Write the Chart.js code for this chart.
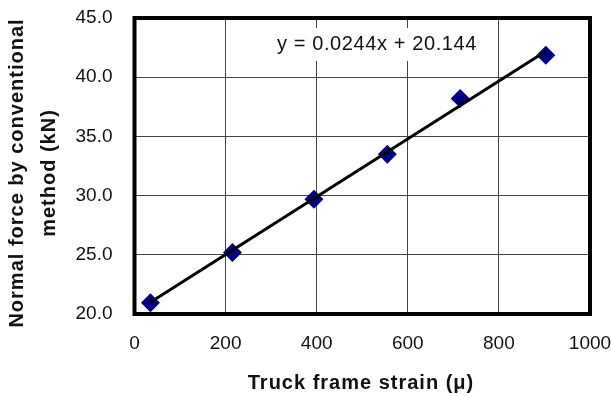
<!DOCTYPE html>
<html>
<head>
<meta charset="utf-8">
<script src="https://cdn.jsdelivr.net/npm/chart.js@4.4.1/dist/chart.umd.min.js"></script>
<style>
  html, body { margin: 0; padding: 0; background: #fff; }
  #wrap { width: 611px; height: 396px; }
</style>
</head>
<body>
<div id="wrap"><canvas id="strainChart" width="611" height="396"></canvas></div>
<script>
// values
const strain = [35, 215, 394, 555, 715, 903];
const force = [20.95, 25.2, 29.7, 33.5, 38.2, 41.85];

// linear trendline end points (as drawn)
const trendStrain = [35, 903];
const trendForce = [21.0, 42.2];

const xTicks = [0, 200, 400, 600, 800, 1000];
const yTicks = [20, 25, 30, 35, 40, 45];

const equationText = "y = 0.0244x + 20.144";
const xTitle = "Truck frame strain (\u03bc)";
const yTitle = ["Normal force by conventional", "method (kN)"];

const FONT = "'Liberation Sans', Arial, sans-serif";

// drop the auto padding chart.js adds for edge labels
function noPad(scale) {
    scale.paddingTop = 0;
    scale.paddingBottom = 0;
    scale.paddingLeft = 0;
    scale.paddingRight = 0;
}

document.addEventListener("DOMContentLoaded", function () {
    const canvas = document.getElementById('strainChart');
    const ctx = canvas.getContext('2d');

    // frame, axis titles and the equation box
    const extras = {
        id: 'extras',
        afterDatasetsDraw(chart) {
            const c = chart.ctx;
            const a = chart.chartArea;

            // equation with white box over the grid
            c.save();
            c.fillStyle = '#fff';
            c.fillRect(276, 28, 204, 33);
            c.font = "20px " + FONT;
            c.fillStyle = '#111';
            c.textAlign = 'center';
            c.textBaseline = 'middle';
            try { c.letterSpacing = '0.6px'; } catch (e) {}
            c.fillText(equationText, 377, 44);
            c.restore();

            // thick plot frame
            c.save();
            c.strokeStyle = '#000';
            c.lineWidth = 4;
            c.strokeRect(a.left, a.top, a.right - a.left, a.bottom - a.top);
            c.restore();

            // axis titles
            c.save();
            c.font = "bold 20px " + FONT;
            c.fillStyle = '#111';
            c.textAlign = 'center';
            c.textBaseline = 'middle';
            try { c.letterSpacing = '1px'; } catch (e) {}
            c.fillText(xTitle, 361, 383);
            c.translate(0, 173);
            c.rotate(-Math.PI / 2);
            c.fillText(yTitle[0], 0, 17);
            c.fillText(yTitle[1], 0, 49);
            c.restore();
        }
    };

    const data = {
        datasets: [{
            type: 'line',
            label: 'Trend',
            data: trendStrain.map((x, i) => ({ x: x, y: trendForce[i] })),
            borderColor: '#000',
            borderWidth: 3,
            pointRadius: 0,
            fill: false,
            order: 0
        }, {
            type: 'scatter',
            label: 'Measured',
            data: strain.map((x, i) => ({ x: x, y: force[i] })),
            pointStyle: 'rectRot',
            pointRadius: 9.5,
            pointBackgroundColor: '#000080',
            pointBorderColor: '#000080',
            pointBorderWidth: 0,
            order: 1
        }]
    };

    const config = {
        type: 'scatter',
        data: data,
        options: {
            responsive: false,
            animation: false,
            layout: { padding: { top: 18, right: 21, left: 0, bottom: 0 } },
            plugins: {
                legend: { display: false },
                tooltip: { enabled: false }
            },
            scales: {
                x: {
                    type: 'linear',
                    min: 0,
                    max: 1000,
                    afterFit: function (scale) { scale.height = 82; noPad(scale); },
                    afterBuildTicks: function (scale) {
                        scale.ticks = xTicks.map(v => ({ value: v }));
                    },
                    ticks: {
                        maxRotation: 0,
                        padding: 18,
                        color: '#111',
                        font: { family: FONT, size: 19 },
                        callback: v => String(v)
                    },
                    grid: { color: '#444', lineWidth: 1, drawTicks: false },
                    border: { display: false }
                },
                y: {
                    type: 'linear',
                    min: 20,
                    max: 45,
                    afterFit: function (scale) { scale.width = 134.5; noPad(scale); },
                    afterBuildTicks: function (scale) {
                        scale.ticks = yTicks.map(v => ({ value: v }));
                    },
                    ticks: {
                        padding: 22,
                        color: '#111',
                        font: { family: FONT, size: 19 },
                        callback: v => Number(v).toFixed(1)
                    },
                    grid: { color: '#444', lineWidth: 1, drawTicks: false },
                    border: { display: false }
                }
            }
        },
        plugins: [extras]
    };

    new Chart(ctx, config);
});
</script>
</body>
</html>
